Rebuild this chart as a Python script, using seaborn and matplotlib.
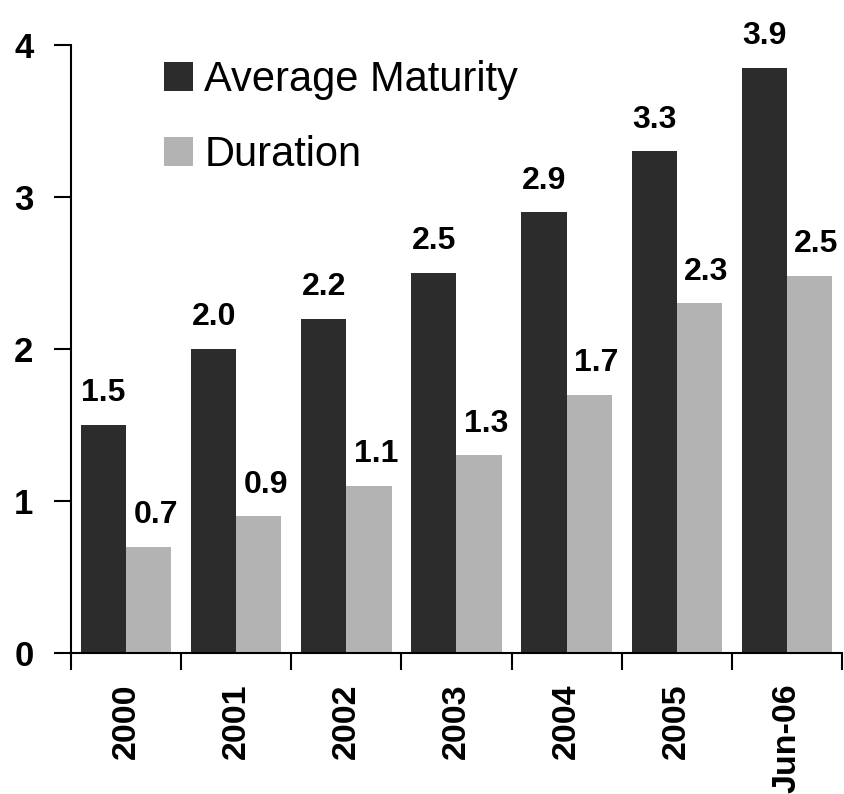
import matplotlib
matplotlib.use('Agg')
import matplotlib.pyplot as plt
import numpy as np
import pandas as pd
import seaborn as sns

periods = ['2000', '2001', '2002', '2003', '2004', '2005', 'Jun-06']
avg_maturity = [1.5, 2.0, 2.2, 2.5, 2.9, 3.3, 3.85]
duration = [0.7, 0.9, 1.1, 1.3, 1.7, 2.3, 2.48]
series_names = ['Average Maturity', 'Duration']
colors = ['#2c2c2c', '#b3b3b3']

df = pd.DataFrame({
    'Period': periods * 2,
    'Years': avg_maturity + duration,
    'Series': [series_names[0]] * len(periods) + [series_names[1]] * len(periods),
})

sns.set_theme(style='white')
plt.rcParams['font.family'] = ['Liberation Sans', 'DejaVu Sans']
plt.rcParams['text.color'] = 'black'
plt.rcParams['xtick.color'] = 'black'
plt.rcParams['ytick.color'] = 'black'

fig = plt.figure(figsize=(8.45, 7.94), dpi=100)
ax = fig.add_axes([71 / 845, 1 - 653 / 794, (842 - 71) / 845, (653 - 45) / 794])

sns.barplot(data=df, x='Period', y='Years', hue='Series', palette=colors,
            saturation=1, width=0.82, errorbar=None, legend=False,
            linewidth=0, edgecolor='none', ax=ax)

# value labels above bars
for cont, dx in zip(ax.containers, [0, 5]):
    for bar in cont:
        h = bar.get_height()
        ax.annotate(f'{h:.1f}', (bar.get_x() + bar.get_width() / 2, h),
                    xytext=(dx, 17), textcoords='offset points',
                    ha='center', va='baseline', fontsize=23, color='black',
                    fontweight='bold', annotation_clip=False)

ax.legend(handles=list(ax.containers), labels=series_names, frameon=False,
          loc='upper left', bbox_to_anchor=(164 / 845, 1 - 60 / 794),
          bbox_transform=fig.transFigure, borderpad=0, borderaxespad=0,
          handlelength=0.7, handleheight=0.7, handletextpad=0.27,
          labelspacing=0.85, fontsize=30, labelcolor='black')

ax.set_xlim(-0.5, len(periods) - 0.5)
ax.set_ylim(0, 4)
ax.set_xlabel('')
ax.set_ylabel('')

# ticks between categories, labels at centers
ax.set_xticks(np.arange(-0.5, len(periods), 1))
ax.set_xticklabels([])
ax.set_xticks(range(len(periods)), minor=True)
ax.set_xticklabels(periods, minor=True, rotation=90, fontsize=24.5, fontweight='bold')
ax.tick_params(axis='x', which='major', bottom=True, length=12, width=1.5,
               direction='out', color='black')
ax.tick_params(axis='x', which='minor', bottom=True, length=0, pad=22,
               labelcolor='black')

ax.set_yticks(range(5))
ax.set_yticklabels([str(v) for v in range(5)], fontsize=25, fontweight='bold')
ax.tick_params(axis='y', left=True, length=12, width=1.5, direction='out',
               color='black', labelcolor='black', pad=15)

for s in ['top', 'right']:
    ax.spines[s].set_visible(False)
for s in ['left', 'bottom']:
    ax.spines[s].set_color('black')
    ax.spines[s].set_linewidth(1.5)

fig.savefig('out.png', dpi=100)
